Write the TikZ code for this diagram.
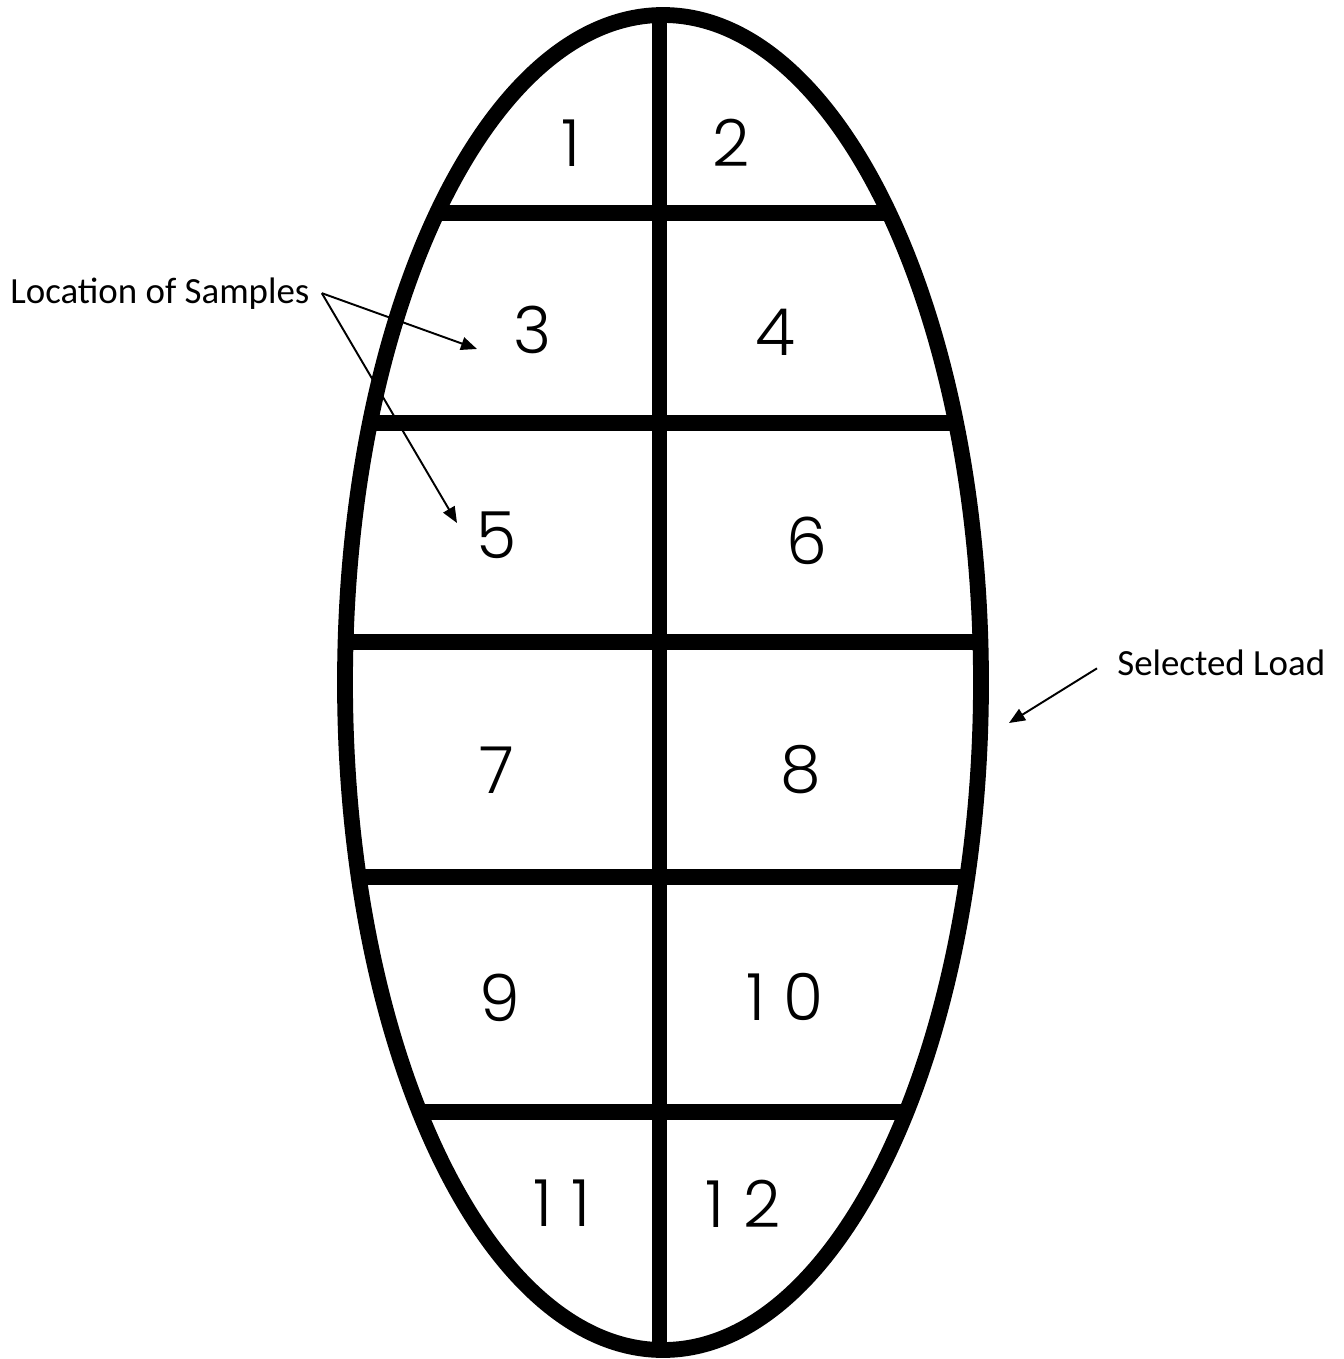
\documentclass[tikz,border=0pt]{standalone}
\usepackage{fontspec}
\setmainfont{Carlito}
\newfontfamily\digitfont[UprightFont=* Light, LetterSpace=28]{Poppins}
\usetikzlibrary{arrows.meta}

\begin{document}
\begin{tikzpicture}[
    x=0.02cm, y=-0.02cm,
    cell/.style={font=\digitfont\fontsize{37}{40}\selectfont, inner sep=0pt},
    note/.style={font=\fontsize{21}{24}\selectfont, inner sep=0pt},
    wall/.style={line width=9pt},
    arrow/.style={-{Triangle[length=0.32cm,width=0.26cm]}, line width=1.1pt}
]
\useasboundingbox (0,0) rectangle (1343,1359);

% grid inside the load
\begin{scope}
\clip (663,682.5) ellipse [x radius=318, y radius=667.5];
\foreach \y in {213,423,642,877,1112}
  \draw[wall] (300,\y) -- (1000,\y);
\draw[wall] (659.5,0) -- (659.5,1359);
\end{scope}
\draw[wall] (663,682.5) ellipse [x radius=318, y radius=667.5];

% sample numbers
\node[cell] (n1)  at (571,143)  {1};
\node[cell] (n2)  at (731,143)  {2};
\node[cell] (n3)  at (533,330)  {3};
\node[cell] (n4)  at (775,332)  {4};
\node[cell] (n5)  at (497,535)  {5};
\node[cell] (n6)  at (807,541)  {6};
\node[cell] (n7)  at (497,770)  {7};
\node[cell] (n8)  at (801,770)  {8};
\node[cell] (n9)  at (500,998)  {9};
\node[cell] (n10) at (785,997)  {10};
\node[cell] (n11) at (562,1203) {11};
\node[cell] (n12) at (743,1204) {12};

% labels
\node[note, anchor=base west] (samples) at (10,303) {Location of Samples};
\node[note, anchor=base west] (load) at (1117,675) {Selected Load};

\coordinate (fork) at ([xshift=0.24cm]samples.east);
\coordinate (tip3) at (477,349);
\coordinate (tip5) at (457,523);
\coordinate (tipload) at (1009,723);

\draw[arrow] (fork) -- (tip3);
\draw[arrow] (fork) -- (tip5);
\draw[arrow] ([xshift=-0.4cm,yshift=-0.12cm]load.west) -- (tipload);
\end{tikzpicture}
\end{document}
